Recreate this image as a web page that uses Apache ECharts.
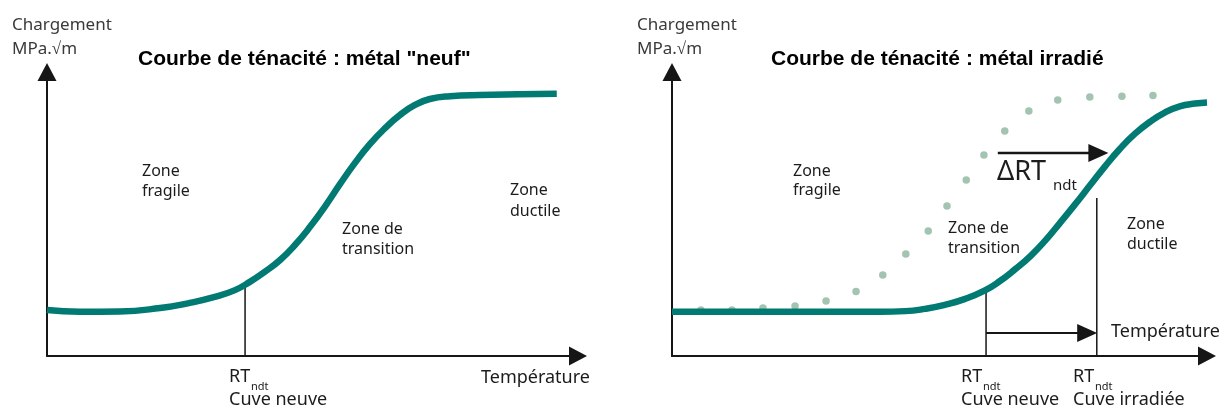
<!DOCTYPE html>
<html><head><meta charset="utf-8">
<script src="https://cdn.jsdelivr.net/npm/echarts@6/dist/echarts.min.js"></script>
<style>html,body{margin:0;padding:0;background:#fff}#c{width:1221px;height:408px}</style>
</head><body><div id="c"></div>
<script>
// ---- Left panel : new metal toughness curve (arbitrary units 0-100)
const neufX = [0, 6.2, 13.7, 21.3, 26.9, 31.6, 35.4, 38.2, 41.0, 43.9, 46.7, 49.5, 52.4, 55.2, 58.0, 60.8, 63.7, 66.5, 69.3, 72.1, 75.9, 81.5, 96.0];
const neufY = [16.2, 15.6, 15.7, 16.9, 18.7, 20.8, 23.2, 26.1, 29.6, 33.8, 39.1, 45.4, 52.8, 60.6, 68.0, 74.6, 80.3, 84.9, 88.4, 90.5, 91.5, 91.9, 92.3];
const rtLeftX = 37.3, rtLeftTop = 25.0;

// ---- Right panel : irradiated metal toughness curve
const irrX = [0, 12.0, 24.0, 32.0, 38.9, 43.6, 47.3, 51.0, 54.8, 58.5, 61.3, 64.1, 67.0, 69.8, 72.5, 75.3, 78.1, 80.9, 83.7, 86.5, 89.3, 92.1, 94.9, 97.8, 100];
const irrY = [15.6, 15.6, 15.6, 15.6, 15.6, 15.8, 16.6, 18.0, 20.1, 23.1, 26.4, 30.5, 35.2, 40.7, 46.8, 53.3, 60.0, 66.7, 72.9, 78.2, 82.4, 85.7, 87.9, 88.9, 89.3];
// dotted reference curve (new metal, shifted)
const refX = [5.4, 11.2, 17.0, 23.0, 28.8, 34.4, 39.4, 43.7, 47.9, 51.4, 55.0, 58.3, 62.2, 66.7, 72.1, 78.1, 84.1, 89.9];
const refY = [16.2, 16.2, 16.9, 17.6, 19.4, 22.7, 28.5, 35.9, 44.0, 52.8, 62.0, 70.8, 79.2, 86.3, 90.1, 91.2, 91.5, 91.7];
const rtNeufX = 58.7, rtNeufTop = 22.5;
const rtIrrX = 79.4, rtIrrTop = 55.6;
const shiftY = 8.1, shiftEnd = 77.6;
const deltaStart = 60.9, deltaEnd = 79.7, deltaY = 71.5;

const zip = (a, b) => a.map((v, i) => [v, b[i]]);
const TEAL = '#007a72', DOT = '#8cb59c', INK = '#161616';

function axisPair(gi) {
  return {
    gridIndex: gi, type: 'value', min: 0, max: 100,
    axisTick: {show: false}, axisLabel: {show: false}, splitLine: {show: false},
    axisLine: {show: true, symbol: ['none', 'triangle'], symbolSize: [19, 18],
      lineStyle: {color: INK, width: 2}}
  };
}
function seg(gi, pts, w, arrow) {
  const data = pts.map((p, i) => (arrow && i === pts.length - 1)
    ? {value: p, symbol: 'triangle', symbolSize: [18, 20], symbolRotate: -90, itemStyle: {color: INK}}
    : {value: p, symbol: 'none'});
  return {type: 'line', xAxisIndex: gi, yAxisIndex: gi, data, showSymbol: true,
    lineStyle: {color: INK, width: w}, itemStyle: {color: INK}, silent: true, z: 3};
}
function txt(text, x, y, size, extra) {
  return {type: 'text', x, y, silent: true, z: 10,
    style: Object.assign({text, fontSize: size, fontFamily: 'Noto Sans', fill: '#1c1c1c',
      verticalAlign: 'middle', align: 'left'}, extra || {})};
}
const titleStyle = {fontFamily: 'Liberation Sans', fontWeight: 'bold', fill: '#000'};
const curve = (gi, data) => ({type: 'line', xAxisIndex: gi, yAxisIndex: gi, data, smooth: 0.5,
  showSymbol: false, lineStyle: {color: TEAL, width: 6.5}, z: 5, silent: true});

const option = {
  animation: false,
  grid: [
    {left: 47, right: 643, top: 72, bottom: 52},
    {left: 672, right: 14, top: 72, bottom: 52}
  ],
  xAxis: [axisPair(0), axisPair(1)],
  yAxis: [axisPair(0), axisPair(1)],
  series: [
    seg(0, [[rtLeftX, 0], [rtLeftX, rtLeftTop]], 1.5, false),
    curve(0, zip(neufX, neufY)),
    {type: 'scatter', xAxisIndex: 1, yAxisIndex: 1, data: zip(refX, refY), symbolSize: 7.5,
      itemStyle: {color: DOT}, z: 2, silent: true},
    seg(1, [[rtNeufX, 0], [rtNeufX, rtNeufTop]], 1.5, false),
    seg(1, [[rtIrrX, 0], [rtIrrX, rtIrrTop]], 1.5, false),
    seg(1, [[rtNeufX, shiftY], [shiftEnd, shiftY]], 2, true),
    seg(1, [[deltaStart, deltaY], [deltaEnd, deltaY]], 2.5, true),
    curve(1, zip(irrX, irrY))
  ],
  graphic: [
    // left panel texts
    txt('Chargement', 12, 25, 17, {fill: '#3a3a3a'}),
    txt('MPa.√m', 12, 49, 17, {fill: '#3a3a3a'}),
    txt('Courbe de ténacité : métal "neuf"', 138, 59, 21, titleStyle),
    txt('Zone', 142, 171, 16), txt('fragile', 142, 191, 16),
    txt('Zone de', 342, 229, 16), txt('transition', 342, 249, 16),
    txt('Zone', 510, 190, 16), txt('ductile', 510, 211, 16),
    txt('RT', 229, 377, 18), txt('ndt', 251, 387, 11),
    txt('Cuve neuve', 229, 400, 18),
    txt('Température', 481, 378, 18),
    // right panel texts
    txt('Chargement', 637, 25, 17, {fill: '#3a3a3a'}),
    txt('MPa.√m', 637, 49, 17, {fill: '#3a3a3a'}),
    txt('Courbe de ténacité : métal irradié', 771, 59, 21, titleStyle),
    txt('Zone', 793, 171, 16), txt('fragile', 793, 190, 16),
    txt('Zone de', 948, 228, 16), txt('transition', 948, 248, 16),
    txt('Zone', 1127, 224, 16), txt('ductile', 1127, 244, 16),
    txt('ΔRT', 997, 172, 27), txt('ndt', 1053, 186, 15),
    txt('RT', 961, 377, 18), txt('ndt', 983, 387, 11),
    txt('Cuve neuve', 961, 400, 18),
    txt('RT', 1073, 377, 18), txt('ndt', 1095, 387, 11),
    txt('Cuve irradiée', 1073, 400, 18),
    txt('Température', 1111, 332, 18)
  ]
};
echarts.init(document.getElementById('c'), null, {renderer: 'canvas'}).setOption(option);
</script></body></html>
